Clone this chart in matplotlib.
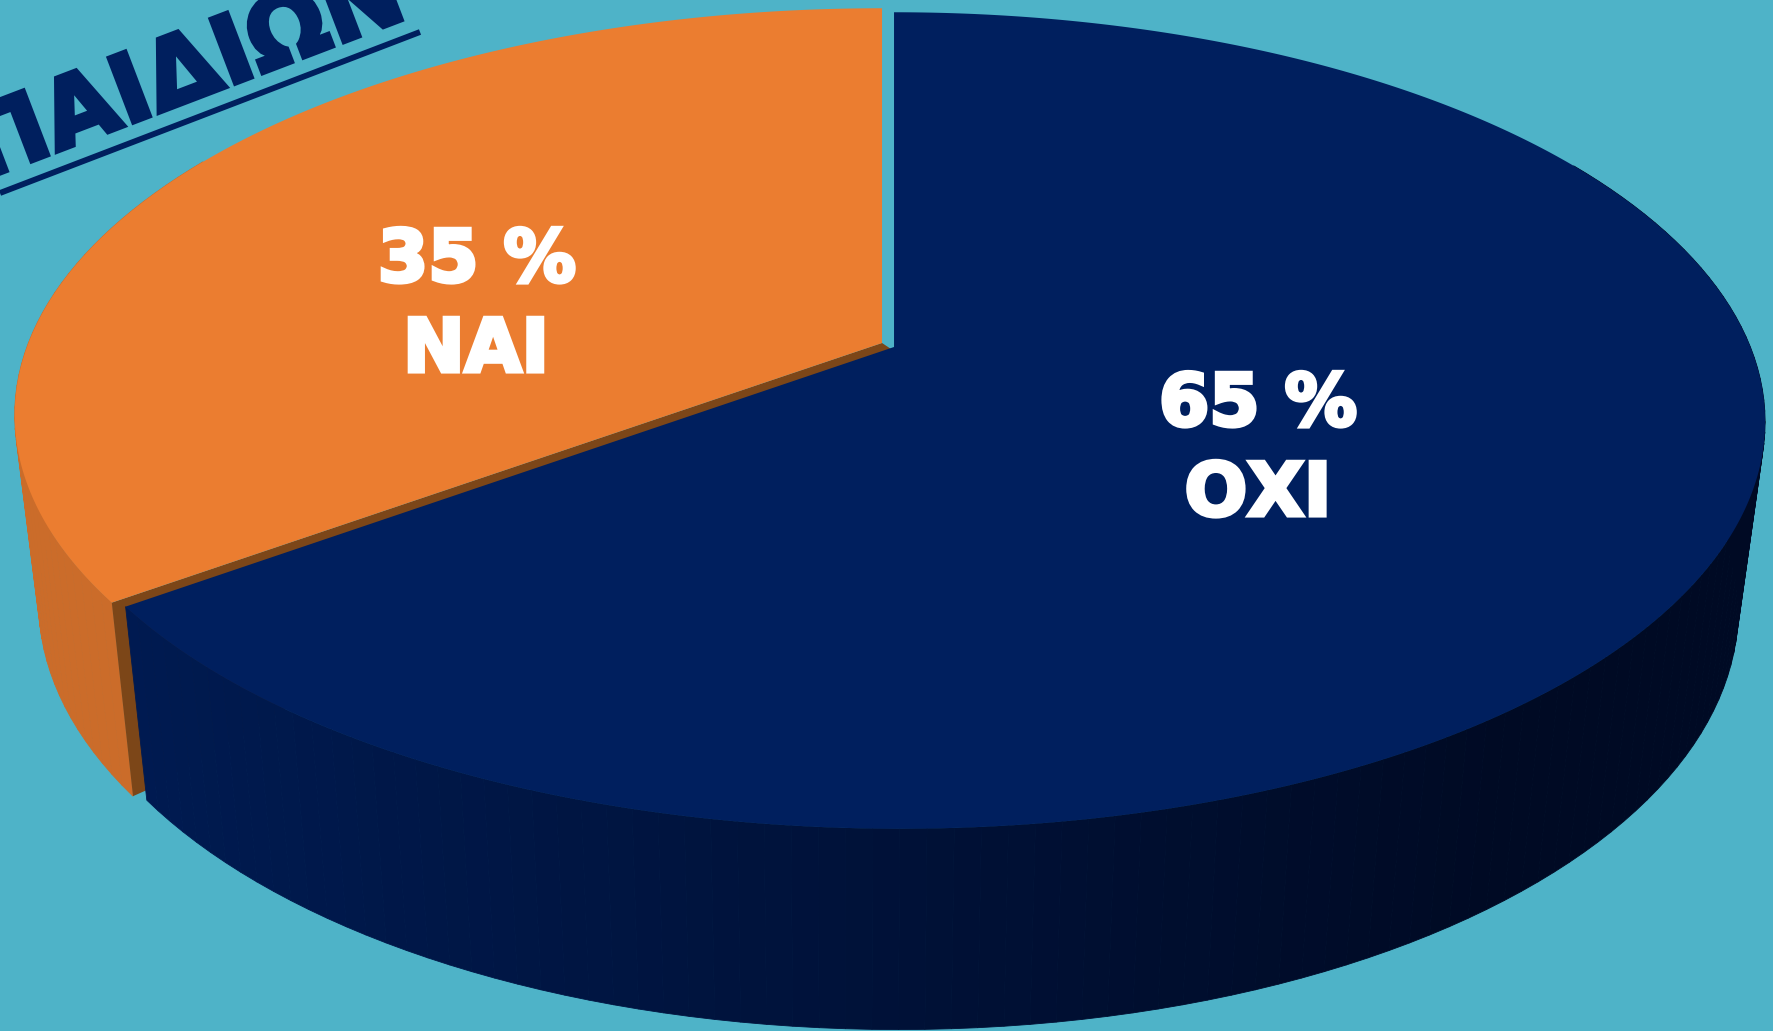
import matplotlib.pyplot as plt
import matplotlib.patheffects as pe
import numpy as np
from matplotlib.colors import to_rgb

labels = ["ΟΧΙ", "ΝΑΙ"]
shares = [65, 35]
title = "ΠΑΙΔΙΩΝ"

BG = "#4EB3C8"
NAVY = "#001F5E"
ORANGE = "#EB7D30"
BROWN = "#7C4618"

# perspective of the pie, in pixels: x0, y0, a, b
TOP = (896.4, 347, 854, 395)
BOTTOM = (895, 532, 829, 408)
TOP_O = (896.4, 347, 856, 395)
BOTTOM_O = (895, 532, 831, 408)
K = 0.18
SKEW = -2.8


def project(theta, rim, dx=0, dy=0):
    # theta in degrees, clockwise from 12 o'clock
    x0, y0, a, b = rim
    u = np.sin(np.radians(theta))
    v = np.cos(np.radians(theta))
    w = 1 + K * v
    return x0 + dx + (a * u + SKEW * v) / w, y0 + dy - b * v / w


def mix(c1, c2, f):
    c1, c2 = np.array(to_rgb(c1)), np.array(to_rgb(c2))
    return tuple(c1 + (c2 - c1) * np.clip(f, 0, 1))


def wall(ax, t1, t2, top, bottom, c_left, c_right, z, dx=0, dy=0):
    # side of the slice, cut in small facets for the shading
    angles = np.arange(t1, t2 + 0.01, 1.5)
    for a1, a2 in zip(angles[:-1], angles[1:]):
        x1, y1 = project(a1, top, dx, dy)
        x2, y2 = project(a2, top, dx, dy)
        x3, y3 = project(a2, bottom, dx, dy)
        x4, y4 = project(a1, bottom, dx, dy)
        col = mix(c_left, c_right, (x1 + x2) / 2 / 1500)
        ax.fill([x1, x2, x3, x4], [y1, y2, y3, y4], color=col, lw=0.6, zorder=z)


fig = plt.figure(figsize=(17.73, 10.31), dpi=100, facecolor=BG)
ax = fig.add_axes([0, 0, 1, 1])
ax.set_xlim(0, 1773)
ax.set_ylim(1031, 0)
ax.axis("off")

split = 360 * shares[0] / sum(shares)
ox, oy = -12, -4
apex_x, apex_y = project(0, TOP)[0], TOP[1]

# orange side
wall(ax, split, 300, TOP_O, BOTTOM_O, "#CB6C2A", "#CB6C2A", 2, ox, oy)

# cut face seen between the slices
cx, cy = project(split, TOP)
bx, by = project(split, BOTTOM)
ocx, ocy = project(split, TOP_O, ox, oy)
obx, oby = project(split, BOTTOM_O, ox, oy)
ax.fill([apex_x + ox, ocx, obx, cx + 0.95 * (bx - cx), apex_x],
        [apex_y + oy, ocy, oby, cy + 0.95 * (by - cy), apex_y + 4],
        color=BROWN, lw=0, zorder=3)

# navy side
wall(ax, 60, split, TOP, BOTTOM, "#001C55", "#000A24", 4)

# navy top
t = np.linspace(0, split, 400)
xs, ys = project(t, TOP)
ax.fill(np.r_[apex_x, xs], np.r_[apex_y, ys], color=NAVY, lw=0, zorder=5)

# orange top
t = np.linspace(split, 360, 300)
xs, ys = project(t, TOP_O, ox, oy)
ax.fill(np.r_[apex_x + ox, xs], np.r_[apex_y + oy, ys], color=ORANGE, lw=0, zorder=6)

# values and names
txt = dict(color="white", family="DejaVu Sans", weight="bold", ha="center",
           va="center", zorder=7,
           path_effects=[pe.withStroke(linewidth=3, foreground="white", joinstyle="miter")])
ax.text(1258, 406, f"{shares[0]} %", fontsize=52, **txt)
ax.text(1258, 495, labels[0], fontsize=53, **txt)
ax.text(477, 262, f"{shares[1]} %", fontsize=52, **txt)
ax.text(476, 351, labels[1], fontsize=53, **txt)

# title cut by the border, with its rule
ax.text(410, 17, title, color=NAVY, family="DejaVu Sans", weight="bold",
        fontsize=68.5, rotation=20.9, rotation_mode="anchor", ha="right",
        va="baseline", zorder=7,
        path_effects=[pe.withStroke(linewidth=3, foreground=NAVY, joinstyle="miter")])
ax.plot([0, 420], [193, 32], color=NAVY, lw=4.2, solid_capstyle="butt", zorder=7)

fig.savefig("out.png", dpi=100, facecolor=BG)
